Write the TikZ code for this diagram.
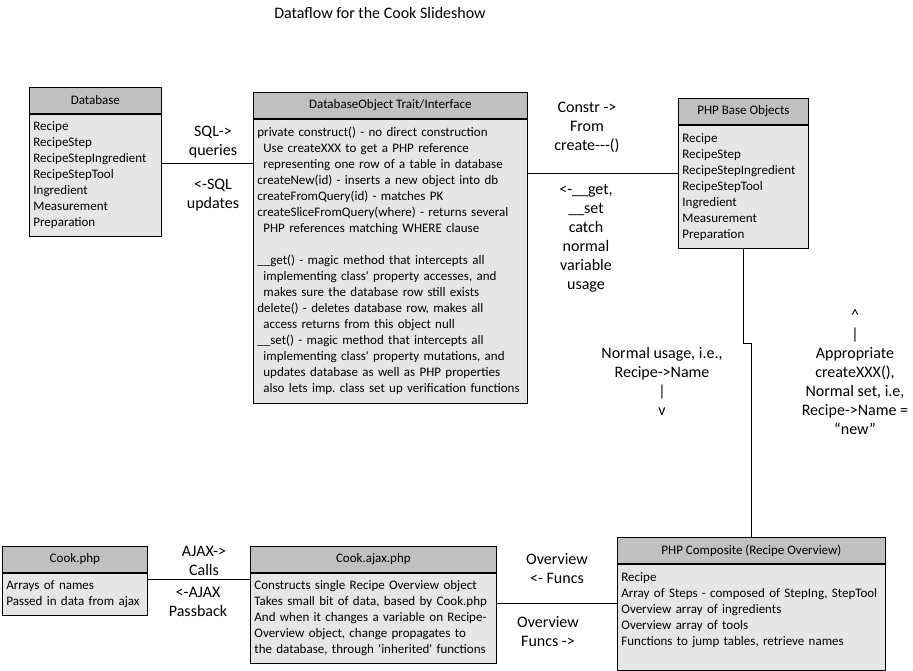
\documentclass[tikz,border=0pt]{standalone}
\usepackage{fontspec}
\setmainfont{Carlito}
\usepackage{tikz}
\usepackage{xcolor}
\definecolor{headgray}{RGB}{192,192,192}
\definecolor{bodygray}{RGB}{230,230,230}
\newcommand{\indt}{\hspace*{6pt}}
\begin{document}
\begin{tikzpicture}[x=1pt, y=-1pt, line width=0.8pt,
  head/.style={draw, fill=headgray, anchor=north west, minimum height=26pt, inner sep=0pt, font=\fontsize{13}{15}\selectfont},
  body/.style={draw, fill=bodygray, anchor=north west, inner xsep=4pt, inner ysep=0pt, align=left, font=\fontsize{13}{16}\selectfont},
  lbl/.style={align=center, font=\fontsize{16}{19}\selectfont}]
\useasboundingbox (0,0) rectangle (913,671);
\node[font=\fontsize{16}{18}\selectfont] (title) at (380,13) {Dataflow for the Cook Slideshow};
% boxes: header + body
\node[head, minimum width=132pt] (db) at (29,87) {Database};
\node[body, text width=124pt, minimum height=122pt] (dbB) at (db.south west) {Recipe\\RecipeStep\\RecipeStepIngredient\\RecipeStepTool\\Ingredient\\Measurement\\Preparation};
\node[head, minimum width=274pt] (dbo) at (253,92) {DatabaseObject Trait/Interface};
\node[body, text width=266pt, minimum height=284pt] (dboB) at (dbo.south west) {private construct() - no direct construction\\
  \indt Use createXXX to get a PHP reference\\
  \indt representing one row of a table in database\\
  createNew(id) - inserts a new object into db\\
  createFromQuery(id) - matches PK\\
  createSliceFromQuery(where) - returns several\\
  \indt PHP references matching WHERE clause\\[16pt]
  \_\_get() - magic method that intercepts all\\
  \indt implementing class\textquotesingle{} property accesses, and\\
  \indt makes sure the database row still exists\\
  delete() - deletes database row, makes all\\
  \indt access returns from this object null\\
  \_\_set() - magic method that intercepts all\\
  \indt implementing class\textquotesingle{} property mutations, and\\
  \indt updates database as well as PHP properties\\
  \indt also lets imp.\ class set up verification functions};
\node[head, minimum width=130pt] (pbo) at (678,98) {PHP Base Objects};
\node[body, text width=122pt, minimum height=123pt] (pboB) at (pbo.south west) {Recipe\\RecipeStep\\RecipeStepIngredient\\RecipeStepTool\\Ingredient\\Measurement\\Preparation};
\node[head, minimum width=145pt] (cook) at (2,546) {Cook.php};
\node[body, text width=137pt, minimum height=42pt] (cookB) at (cook.south west) {Arrays of names\\Passed in data from ajax};
\node[head, minimum width=246pt] (ajax) at (250,546) {Cook.ajax.php};
\node[body, text width=238pt, minimum height=90pt] (ajaxB) at (ajax.south west) {Constructs single Recipe Overview object\\
  Takes small bit of data, based by Cook.php\\
  And when it changes a variable on Recipe-\\
  Overview object, change propagates to\\
  the database, through \textquotesingle inherited\textquotesingle{} functions};
\node[head, minimum width=268pt] (comp) at (617,537) {PHP Composite (Recipe Overview)};
\node[body, text width=260pt, minimum height=106pt] (compB) at (comp.south west) {Recipe\\
  Array of Steps - composed of StepIng, StepTool\\
  Overview array of ingredients\\
  Overview array of tools\\
  Functions to jump tables, retrieve names\\ \mbox{}};
% connectors
\draw (dbB.east |- 0,163) -- (dboB.west |- 0,163);
\draw (dboB.east |- 0,173) -- (pboB.west |- 0,173);
\draw (pboB.south) -- (pboB.south |- 0,343) -- (comp.north |- 0,343) -- (comp.north);
\draw (cookB.east |- 0,579) -- (ajaxB.west |- 0,579);
\draw (ajaxB.east |- 0,603) -- (compB.west |- 0,603);
% labels
\node[lbl] (sqlq) at (213,142) {SQL->\\queries};
\node[lbl] (sqlu) at (213,195) {<-SQL\\updates};
\node[lbl] (constr) at (587,127) {Constr ->\\From\\create{-}{-}{-}()};
\node[lbl] (getset) at (586,238) {<-\_\_get,\\\_\_set\\catch\\normal\\variable\\usage};
\node[lbl] (normal) at (662,381) {Normal usage, i.e.,\\Recipe->Name\\|\\v};
\node[lbl] (approp) at (855,372) {\textasciicircum\\|\\Appropriate\\createXXX(),\\Normal set, i.e,\\Recipe->Name =\\“new”};
\node[lbl] (ajaxc) at (204,561) {AJAX->\\Calls};
\node[lbl] (ajaxp) at (198,602) {<-AJAX\\Passback};
\node[lbl] (ovf) at (557,569) {Overview\\<- Funcs};
\node[lbl] (ovt) at (548,632) {Overview\\Funcs ->};
\end{tikzpicture}
\end{document}
